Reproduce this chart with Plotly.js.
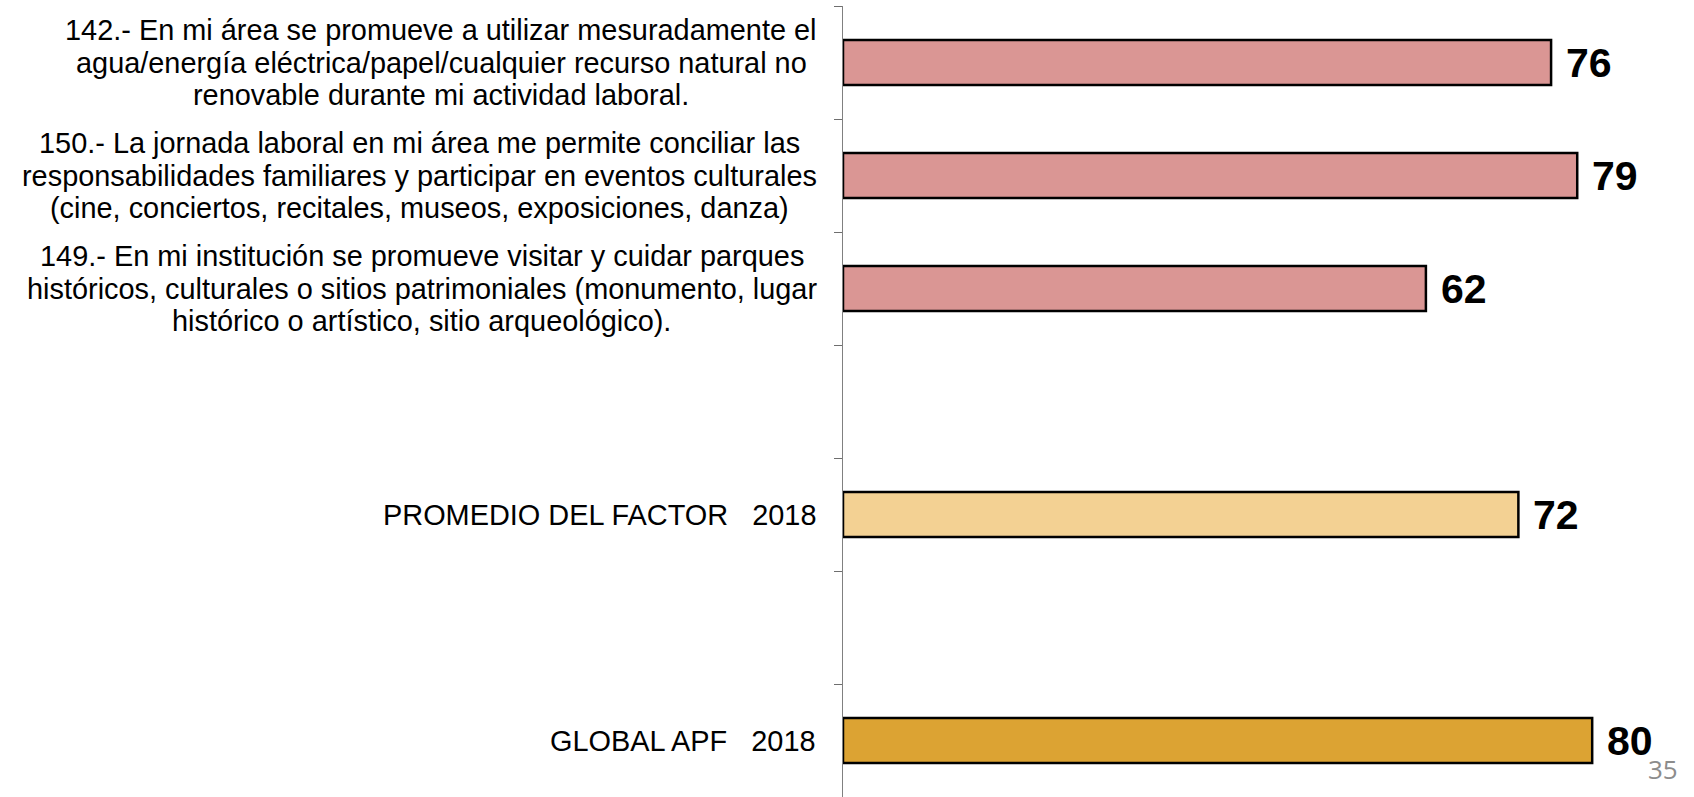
<!DOCTYPE html>
<html>
<head>
<meta charset="utf-8">
<script src="https://cdn.plot.ly/plotly-3.0.1.min.js"></script>
<style>
  html, body { margin: 0; padding: 0; background: #ffffff; }
  #chart { width: 1694px; height: 797px; }
</style>
</head>
<body>
<div id="chart"></div>
<script>
// ---- data ----
const categories = ['q142', 'q150', 'q149', 'gap1', 'promedio', 'gap2', 'global'];
const labelLines = [
  ['142.- En mi área se promueve a utilizar mesuradamente el',
   'agua/energía eléctrica/papel/cualquier recurso natural no',
   'renovable durante mi actividad laboral.'],
  ['150.- La jornada laboral en mi área me permite conciliar las',
   'responsabilidades familiares y participar en eventos culturales',
   '(cine, conciertos, recitales, museos, exposiciones, danza)'],
  ['149.- En mi institución se promueve visitar y cuidar parques',
   'históricos, culturales o sitios patrimoniales (monumento, lugar',
   'histórico o artístico, sitio arqueológico).'],
  [],
  ['PROMEDIO DEL FACTOR\u00A0\u00A0\u00A02018'],
  [],
  ['GLOBAL APF\u00A0\u00A0\u00A02018']
];
const values = [75.8, 78.6, 62.4, null, 72.3, null, 80.2];
const valueLabels = ['76', '79', '62', '', '72', '', '80'];
const barColors = ['#DA9694', '#DA9694', '#DA9694', '#FFFFFF', '#F3D193', '#FFFFFF', '#DCA333'];
const pageNumber = '35';

// ---- layout constants ----
const W = 1694, H = 797;
const M = { l: 843, r: 0, t: 6, b: 0 };
const plotW = W - M.l - M.r;
const labelSize = 28.9;
const labelFont = 'Liberation Sans, Arial, sans-serif';
const lineGap = 32.4;
const labelPad = 26;

const ctx = document.createElement('canvas').getContext('2d');
ctx.font = labelSize + 'px "Liberation Sans", Arial, sans-serif';

// ---- chart ----
const trace = {
  type: 'bar',
  orientation: 'h',
  y: categories,
  x: values,
  width: 0.4,
  marker: { color: barColors, line: { color: '#000000', width: 2.5 } },
  hoverinfo: 'none'
};

const annotations = [];
categories.forEach((c, i) => {
  const lines = labelLines[i];
  if (lines.length) {
    const maxW = Math.max(...lines.map(t => ctx.measureText(t).width));
    const cx = -(labelPad + maxW / 2) / plotW;
    const n = lines.length;
    lines.forEach((t, j) => {
      annotations.push({
        xref: 'paper', yref: 'y', x: cx, y: c,
        xanchor: 'center', yanchor: 'middle', align: 'center',
        yshift: -(j - (n - 1) / 2) * lineGap,
        showarrow: false,
        text: t,
        font: { family: labelFont, size: labelSize, color: '#000000' }
      });
    });
  }
  if (values[i] !== null) {
    annotations.push({
      xref: 'x', yref: 'y', x: values[i], y: c,
      xanchor: 'left', yanchor: 'middle',
      xshift: 13,
      showarrow: false,
      text: '<b>' + valueLabels[i] + '</b>',
      font: { family: labelFont, size: 41, color: '#000000' }
    });
  }
});
annotations.push({
  xref: 'paper', yref: 'paper', x: 0.9636, y: 0.035,
  xanchor: 'center', yanchor: 'middle', showarrow: false,
  text: pageNumber,
  font: { family: 'Open Sans, Liberation Sans, sans-serif', size: 26, color: '#8c8c8c' }
});

const layout = {
  width: W, height: H,
  margin: M,
  paper_bgcolor: '#ffffff', plot_bgcolor: '#ffffff',
  showlegend: false,
  xaxis: {
    range: [0, 91.1],
    visible: false,
    showgrid: false, zeroline: false
  },
  yaxis: {
    type: 'category',
    categoryorder: 'array',
    categoryarray: categories,
    autorange: 'reversed',
    showticklabels: false,
    showgrid: false, zeroline: false,
    showline: true, linecolor: '#808080', linewidth: 1,
    ticks: 'outside', ticklen: 8, tickcolor: '#6e6e6e', tickwidth: 1,
    tickson: 'boundaries'
  },
  annotations: annotations
};

Plotly.newPlot('chart', [trace], layout, { displayModeBar: false, staticPlot: true });
</script>
</body>
</html>
